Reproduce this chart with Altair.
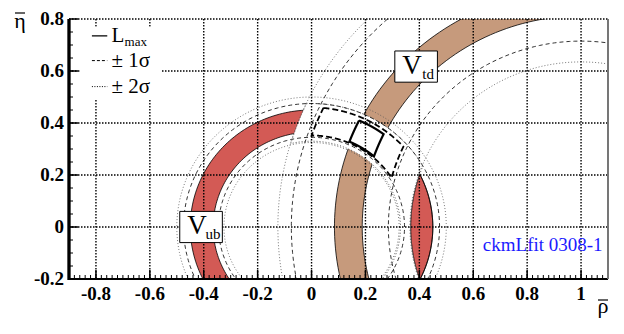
import numpy as np
import pandas as pd
import altair as alt

# ---------------- data ----------------
X_DOMAIN = [-0.9, 1.1]
Y_DOMAIN = [-0.2, 0.8]

x_major = [-0.8, -0.6, -0.4, -0.2, 0.0, 0.2, 0.4, 0.6, 0.8, 1.0]
x_labels = ["-0.8", "-0.6", "-0.4", "-0.2", "0", "0.2", "0.4", "0.6", "0.8", "1"]
y_major = [-0.2, 0.0, 0.2, 0.4, 0.6, 0.8]
y_labels = ["-0.2", "0", "0.2", "0.4", "0.6", "0.8"]

# constraint bands: Vub around (0,0), Vtd around (1,0)
vub_band = [0.365, 0.45]
vtd_band = [0.812, 0.915]
vub_1s = [0.345, 0.475]
vub_2s = [0.325, 0.50]
vtd_1s = [0.715, 1.075]
vtd_2s = [0.635, 1.125]
# global fit regions: radius range around (0,0), radius range around (1,0)
fit_lmax = [0.357, 0.446, 0.815, 0.92]
fit_1s = [0.352, 0.46, 0.728, 1.06]
fit_2s = [0.33, 0.475, 0.632, 1.124]

RED = "#d35a55"
TAN = "#c69a7c"

W, H = 539, 260

# ---------------- geometry helpers ----------------
def arc(cx, r, a0, a1, n=240):
    t = np.radians(np.linspace(a0, a1, n))
    return list(cx + r * np.cos(t)), list(r * np.sin(t))

def corner(r, d):
    x = (r * r - d * d + 1) / 2
    y = np.sqrt(max(r * r - x * x, 0.0))
    return x, y

def a0(p):
    return float(np.degrees(np.arctan2(p[1], p[0])))

def a1(p):
    return float(np.degrees(np.arctan2(p[1], p[0] - 1)))

def join(*arcs):
    xs, ys = [], []
    for ax, ay in arcs:
        xs += ax
        ys += ay
    return xs, ys

def ring(cx, rin, rout):
    return join(arc(cx, rout, 0, 360), arc(cx, rin, 360, 0))

def quad(rin, rout, din, dout):
    A, B = corner(rout, dout), corner(rout, din)
    C, D = corner(rin, din), corner(rin, dout)
    return join(arc(0, rout, a0(A), a0(B)), arc(1, din, a1(B), a1(C)),
                arc(0, rin, a0(C), a0(D)), arc(1, dout, a1(D), a1(A)))

def band_region(rin, rout, din, dout):
    A, B, D = corner(rout, dout), corner(rout, din), corner(rin, dout)
    return join(arc(0, rout, a0(A), a0(B)), arc(1, din, a1(B), 360 - a1(B)),
                arc(0, rout, -a0(B), -a0(A)), arc(1, dout, 360 - a1(A), 360 - a1(D)),
                arc(0, rin, -a0(D), a0(D)), arc(1, dout, a1(D), a1(A)))

def lens(r, d):
    P = corner(r, d)
    return join(arc(0, r, -a0(P), a0(P)), arc(1, d, a1(P), 360 - a1(P)))

xs = alt.Scale(domain=X_DOMAIN, nice=False, zero=False)
ys = alt.Scale(domain=Y_DOMAIN, nice=False, zero=False)

def path(pts, **mark):
    x, y = pts
    df = pd.DataFrame({"x": x, "y": y, "i": np.arange(len(x))})
    return alt.Chart(df).mark_line(clip=True, **mark).encode(
        x=alt.X("x:Q", scale=xs, axis=None),
        y=alt.Y("y:Q", scale=ys, axis=None),
        order="i:Q",
    )

layers = []
# filled constraint bands
layers.append(path(ring(0, *vub_band), fill=RED, strokeWidth=0))
layers.append(path(ring(1, *vtd_band), fill=TAN, strokeWidth=0))
for r in vub_band:
    layers.append(path(arc(0, r, 0, 360), stroke="black", strokeWidth=0.8))
for r in vtd_band:
    layers.append(path(arc(1, r, 0, 360), stroke="black", strokeWidth=0.8))
# global fit 2 sigma region (white)
layers.append(path(band_region(*fit_2s), fill="white", strokeWidth=0))
layers.append(path(lens(vub_band[1], fit_2s[2]), stroke="black", strokeWidth=0.8))
# individual constraint contours
for r in vub_1s:
    layers.append(path(arc(0, r, 0, 360), stroke="black", strokeWidth=0.8, strokeDash=[4, 3]))
for r in vtd_1s:
    layers.append(path(arc(1, r, 0, 360), stroke="black", strokeWidth=0.8, strokeDash=[4, 3]))
for r in vub_2s:
    layers.append(path(arc(0, r, 0, 360), stroke="#555", strokeWidth=0.8, strokeDash=[1, 2]))
for r in vtd_2s:
    layers.append(path(arc(1, r, 0, 360), stroke="#555", strokeWidth=0.8, strokeDash=[1, 2]))
# global fit contours
layers.append(path(band_region(*fit_2s), stroke="#444", strokeWidth=0.9, strokeDash=[1, 2]))
layers.append(path(quad(*fit_1s), stroke="black", strokeWidth=1.8, strokeDash=[6, 3]))
layers.append(path(quad(*fit_lmax), fill="white", stroke="black", strokeWidth=2.2))

# grid
gx = pd.DataFrame({"v": x_major})
gy = pd.DataFrame({"v": [v for v in y_major if v > Y_DOMAIN[0]]})
grid_style = dict(color="black", strokeWidth=1.4, strokeDash=[1.5, 1.5])
layers.append(alt.Chart(gx).mark_rule(**grid_style).encode(
    x=alt.X("v:Q", scale=xs, axis=None), y=alt.value(0), y2=alt.value(H)))
layers.append(alt.Chart(gy).mark_rule(**grid_style).encode(
    y=alt.Y("v:Q", scale=ys, axis=None), x=alt.value(0), x2=alt.value(W)))

# legend
SERIF = "Liberation Serif"
leg_box = pd.DataFrame({"x": [-0.86], "x2": [-0.556], "y": [0.77], "y2": [0.49]})
layers.append(alt.Chart(leg_box).mark_rect(color="white").encode(
    x=alt.X("x:Q", scale=xs, axis=None), x2="x2", y=alt.Y("y:Q", scale=ys, axis=None), y2="y2"))
leg_rows = [0.735, 0.640, 0.540]
leg_dash = [[1, 0], [3, 2], [1, 1.5]]
leg_w = [1.2, 1.0, 1.0]
for row, dash, sw in zip(leg_rows, leg_dash, leg_w):
    d = pd.DataFrame({"x": [-0.815], "x2": [-0.758], "y": [row]})
    layers.append(alt.Chart(d).mark_rule(color="black", strokeWidth=sw, strokeDash=dash).encode(
        x=alt.X("x:Q", scale=xs, axis=None), x2="x2", y=alt.Y("y:Q", scale=ys, axis=None)))
leg_text = pd.DataFrame({"x": [-0.742, -0.742, -0.742], "y": leg_rows,
                         "t": ["L", "\u00b1 1\u03c3", "\u00b1 2\u03c3"]})
layers.append(alt.Chart(leg_text).mark_text(font=SERIF, fontSize=21, align="left",
                                              baseline="middle", color="black").encode(
    x=alt.X("x:Q", scale=xs, axis=None), y=alt.Y("y:Q", scale=ys, axis=None), text="t:N"))
sub = pd.DataFrame({"x": [-0.742], "y": [leg_rows[0]], "t": ["max"]})
layers.append(alt.Chart(sub).mark_text(font=SERIF, fontSize=13, align="left",
                                         baseline="alphabetic", dx=13, dy=10).encode(
    x=alt.X("x:Q", scale=xs, axis=None), y=alt.Y("y:Q", scale=ys, axis=None), text="t:N"))

# V_ub / V_td labels
boxes = pd.DataFrame({"cx": [-0.41, 0.388], "cy": [0.0, 0.617], "s": ["ub", "td"]})
boxes["x"] = boxes.cx - 0.079
boxes["x2"] = boxes.cx + 0.079
boxes["y"] = boxes.cy - 0.06
boxes["y2"] = boxes.cy + 0.06
layers.append(alt.Chart(boxes).mark_rect(fill="white", stroke="black", strokeWidth=1).encode(
    x=alt.X("x:Q", scale=xs, axis=None), x2="x2", y=alt.Y("y:Q", scale=ys, axis=None), y2="y2"))
layers.append(alt.Chart(boxes).mark_text(font=SERIF, fontSize=27, text="V", dx=-4, dy=-1,
                                          baseline="middle").encode(
    x=alt.X("cx:Q", scale=xs, axis=None), y=alt.Y("cy:Q", scale=ys, axis=None)))
layers.append(alt.Chart(boxes).mark_text(font=SERIF, fontSize=15, dx=12, dy=12,
                                          baseline="alphabetic").encode(
    x=alt.X("cx:Q", scale=xs, axis=None), y=alt.Y("cy:Q", scale=ys, axis=None), text="s:N"))

# ckmfit tag
tag = pd.DataFrame({"x": [1.08], "y": [-0.07], "t": ["ckmLfit 0308-1"]})
layers.append(alt.Chart(tag).mark_text(font=SERIF, fontSize=19, color="#1a1aff", align="right",
                                        baseline="middle").encode(
    x=alt.X("x:Q", scale=xs, axis=None), y=alt.Y("y:Q", scale=ys, axis=None), text="t:N"))

# ticks
x_minor = [round(v, 2) for v in np.arange(-0.88, 1.1, 0.02)]
y_minor = [round(v, 2) for v in np.arange(-0.15, 0.8, 0.05)]
layers.append(alt.Chart(pd.DataFrame({"v": x_minor})).mark_rule(color="black", strokeWidth=1).encode(
    x=alt.X("v:Q", scale=xs, axis=None), y=alt.value(H), y2=alt.value(H - 4)))
layers.append(alt.Chart(gx).mark_rule(color="black", strokeWidth=1.5).encode(
    x=alt.X("v:Q", scale=xs, axis=None), y=alt.value(H), y2=alt.value(H - 9)))
layers.append(alt.Chart(pd.DataFrame({"v": y_minor})).mark_rule(color="black", strokeWidth=1).encode(
    y=alt.Y("v:Q", scale=ys, axis=None), x=alt.value(0), x2=alt.value(4)))
layers.append(alt.Chart(pd.DataFrame({"v": y_major})).mark_rule(color="black", strokeWidth=1.5).encode(
    y=alt.Y("v:Q", scale=ys, axis=None), x=alt.value(0), x2=alt.value(9)))

# frame
layers.append(alt.Chart(gx).mark_rule(color="black", strokeWidth=2.2).encode(
    x=alt.value(0), y=alt.value(0), y2=alt.value(H + 1)))
layers.append(alt.Chart(gx).mark_rule(color="black", strokeWidth=2.2).encode(
    x=alt.value(-1), x2=alt.value(W), y=alt.value(H)))
layers.append(alt.Chart(gx).mark_rule(color="#777", strokeWidth=1.2).encode(
    x=alt.value(W), y=alt.value(0), y2=alt.value(H)))

# tick labels
xl = pd.DataFrame({"v": x_major, "t": x_labels})
yl = pd.DataFrame({"v": y_major, "t": y_labels})
lab = dict(font=SERIF, fontSize=19, fontWeight="bold", color="black")
layers.append(alt.Chart(xl).mark_text(baseline="top", **lab).encode(
    x=alt.X("v:Q", scale=xs, axis=None), y=alt.value(H + 6), text="t:N"))
layers.append(alt.Chart(yl).mark_text(baseline="middle", align="right", **lab).encode(
    y=alt.Y("v:Q", scale=ys, axis=None), x=alt.value(-5), text="t:N"))

# axis titles
ttl = pd.DataFrame({"t": ["\u03b7"]})
layers.append(alt.Chart(ttl).mark_text(font=SERIF, fontSize=22, baseline="alphabetic").encode(
    x=alt.value(-49), y=alt.value(9), text="t:N"))
layers.append(alt.Chart(ttl).mark_rule(color="black", strokeWidth=1.2).encode(
    x=alt.value(-54), x2=alt.value(-44), y=alt.value(-6)))
ttl2 = pd.DataFrame({"t": ["\u03c1"]})
layers.append(alt.Chart(ttl2).mark_text(font=SERIF, fontSize=22, baseline="alphabetic").encode(
    x=alt.value(534), y=alt.value(294), text="t:N"))
layers.append(alt.Chart(ttl2).mark_rule(color="black", strokeWidth=1.2).encode(
    x=alt.value(529), x2=alt.value(539), y=alt.value(281)))

chart = alt.layer(*layers).properties(
    width=W, height=H,
    autosize=alt.AutoSizeParams(type="none"),
    padding={"left": 61, "top": 11, "right": 8, "bottom": 42},
).configure_view(strokeWidth=0)

chart.save("out.html", embed_options={"renderer": "svg", "actions": False})
